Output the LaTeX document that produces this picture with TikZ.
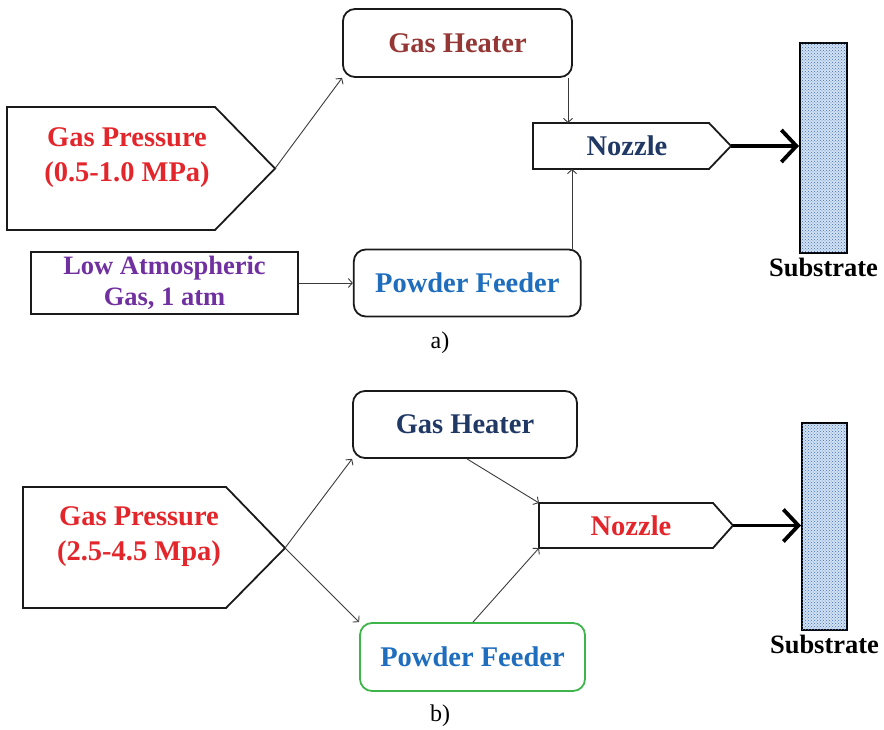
\documentclass[tikz,border=0pt]{standalone}
\usepackage{fontspec}
\setmainfont{Liberation Serif}
\usetikzlibrary{arrows.meta,positioning,patterns}
\definecolor{Ink}{HTML}{1A1A1A}
\definecolor{Wire}{HTML}{3A3A3A}
\definecolor{Brick}{HTML}{953735}
\definecolor{Flame}{HTML}{E3262B}
\definecolor{Plum}{HTML}{7030A0}
\definecolor{Ocean}{HTML}{1F6EBE}
\definecolor{Navy}{HTML}{203864}
\definecolor{Leaf}{HTML}{3DB54A}
\definecolor{Frost}{HTML}{D3E2F4}
\definecolor{Dot}{HTML}{3F6FB5}
\tikzset{
  unit/.style={
    rounded corners=12pt, draw=Ink, line width=1.8pt, fill=white,
    align=center, inner sep=0pt, font=\fontsize{28.5}{34}\selectfont\bfseries
  },
  source/.style={
    draw=Ink, line width=1.8pt, align=center, inner sep=0pt,
    font=\fontsize{26.5}{31}\selectfont\bfseries
  },
  tag/.style={align=center, inner sep=0pt, font=\fontsize{28.5}{35}\selectfont\bfseries},
  outline/.style={draw=Ink, line width=1.8pt, line join=miter},
  flow/.style={-{Straight Barb[length=4pt,width=9pt]}, line width=0.9pt, draw=Wire},
  jet/.style={-{Straight Barb[length=15pt,width=32pt]}, line width=3.8pt, draw=black},
  target/.style={
    draw=black, line width=2pt, fill=Frost, inner sep=0pt,
    postaction={pattern=crosshatch dots, pattern color=Dot}
  },
  caption/.style={font=\fontsize{24}{28}\selectfont}
}
\begin{document}
\begin{tikzpicture}[x=1pt,y=-1pt]
  \useasboundingbox (0,0) rectangle (884,730);
  % a) low pressure
  \draw[outline] (7,107) -- (215,107) -- (275,168.5) coordinate (gpa-tip)
    -- (215,230) -- (7,230) -- cycle;
  \node[tag, text=Flame] (gpa) at (127,158) {Gas Pressure\\(0.5-1.0 MPa)};
  \node[unit, text=Brick, minimum width=229pt, minimum height=68pt] (gha) at (457.5,43) {Gas Heater};
  \node[source, text=Plum, minimum width=267pt, minimum height=62pt] (atma) at (164.5,283)
    {Low Atmospheric\\Gas, 1 atm};
  \node[unit, text=Ocean, minimum width=227pt, minimum height=67pt, right=54pt of atma] (pfa) {Powder Feeder};
  \draw[outline] (533,123) -- (709,123) -- (731,146) coordinate (noza-tip)
    -- (709,169) -- (533,169) -- cycle;
  \coordinate (noza-top) at (568,123);
  \coordinate (noza-bot) at (572,169);
  \node[tag, text=Navy] (noza) at (627,146) {Nozzle};
  \node[target, minimum width=47pt, minimum height=210pt] (suba) at (823.5,148) {};
  \node[tag, font=\fontsize{26.5}{30}\selectfont\bfseries, below=4pt of suba] (suba-name) {Substrate};
  \draw[flow] (gpa-tip) -- (gha.south west);
  \draw[flow] (atma) -- (pfa);
  \draw[flow] (gha.south -| noza-top) -- (noza-top);
  \draw[flow] (pfa.north -| noza-bot) -- (noza-bot);
  \draw[jet] (noza-tip) -- (suba.west |- noza-tip);
  \node[caption] (capa) at (440,343) {a)};
  % b) high pressure
  \draw[outline] (23,487) -- (226,487) -- (285,548) coordinate (gpb-tip)
    -- (226,608) -- (23,608) -- cycle;
  \node[tag, text=Flame] (gpb) at (139,537) {Gas Pressure\\(2.5-4.5 Mpa)};
  \node[unit, text=Navy, minimum width=224pt, minimum height=67pt] (ghb) at (465,424.5) {Gas Heater};
  \node[unit, draw=Leaf, text=Ocean, minimum width=225pt, minimum height=68pt] (pfb) at (472.5,657) {Powder Feeder};
  \draw[outline] (539,503) coordinate (nozb-nw) -- (713,503) -- (733,525.5) coordinate (nozb-tip)
    -- (713,548) -- (539,548) coordinate (nozb-sw) -- cycle;
  \node[tag, text=Flame] (nozb) at (631,526) {Nozzle};
  \node[target, minimum width=45pt, minimum height=207pt] (subb) at (824.5,526.5) {};
  \node[tag, font=\fontsize{26.5}{30}\selectfont\bfseries, below=4pt of subb] (subb-name) {Substrate};
  \draw[flow] (gpb-tip) -- (ghb.south west);
  \draw[flow] (gpb-tip) -- (pfb.north west);
  \draw[flow] ([xshift=2pt]ghb.south) -- (nozb-nw);
  \draw[flow] ([xshift=0.5pt]pfb.north) -- (nozb-sw);
  \draw[jet] (nozb-tip) -- (subb.west |- nozb-tip);
  \node[caption] (capb) at (440,716) {b)};
\end{tikzpicture}
\end{document}
